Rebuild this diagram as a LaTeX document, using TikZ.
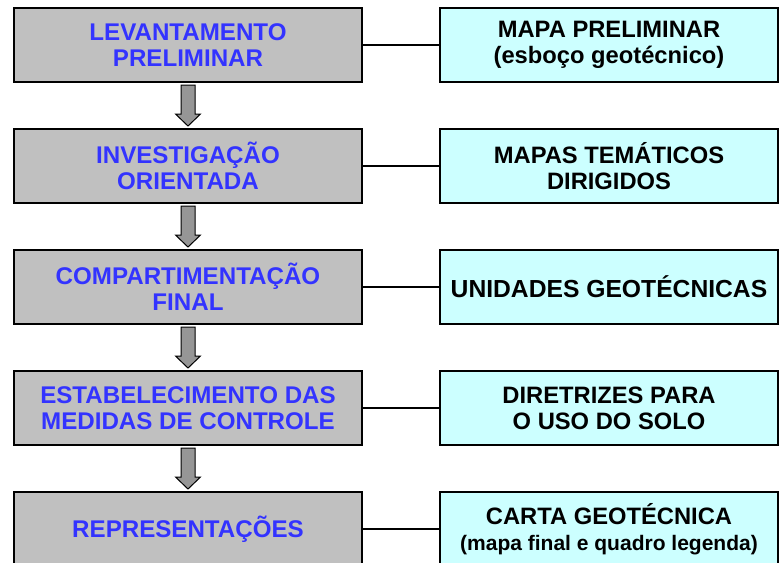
\documentclass[tikz,border=0pt]{standalone}
\usepackage{fontspec}
\setmainfont{Liberation Sans}
\usetikzlibrary{positioning, calc}

\definecolor{boxgray}{RGB}{192,192,192}
\definecolor{boxcyan}{RGB}{204,255,255}
\definecolor{txtblue}{RGB}{51,51,255}
\definecolor{arrgray}{RGB}{150,150,150}

\begin{document}
\begin{tikzpicture}[
    stage/.style={rectangle, draw, line width=1.5pt, fill=boxgray, text=txtblue, minimum width=261pt, minimum height=55.5pt, align=center, font=\fontsize{18.1}{19.5}\selectfont\bfseries},
    result/.style={rectangle, draw, line width=1.5pt, fill=boxcyan, minimum width=253.5pt, minimum height=55.5pt, align=center, font=\fontsize{17.8}{19.5}\selectfont\bfseries},
    link/.style={line width=1pt},
    blockarr/.style={draw, line width=0.75pt, fill=arrgray, line join=miter},
    ]
    \useasboundingbox (0,0) rectangle (584.25pt,-421.5pt);
    \clip (0,0) rectangle (584.25pt,-421.5pt);

    % Stages
    \node[stage] (l1) at (141pt,-33.75pt) {LEVANTAMENTO\\PRELIMINAR};
    \node[stage, below=33.75pt of l1] (l2) {INVESTIGAÇÃO\\ORIENTADA};
    \node[stage, below=33.75pt of l2] (l3) {COMPARTIMENTAÇÃO\\FINAL};
    \node[stage, below=33.75pt of l3] (l4) {ESTABELECIMENTO DAS\\MEDIDAS DE CONTROLE};
    \node[stage, below=33.75pt of l4] (l5) {REPRESENTAÇÕES};

    % Products
    \node[result, right=57pt of l1] (r1) {MAPA PRELIMINAR\\(esboço geotécnico)};
    \node[result, right=57pt of l2] (r2) {MAPAS TEMÁTICOS\\DIRIGIDOS};
    \node[result, right=57pt of l3, font=\fontsize{18.5}{19.5}\selectfont\bfseries] (r3) {UNIDADES GEOTÉCNICAS};
    \node[result, right=57pt of l4] (r4) {DIRETRIZES PARA\\O USO DO SOLO};
    \node[result, right=57pt of l5] (r5) {CARTA GEOTÉCNICA\\{\fontsize{15.75}{18}\selectfont (mapa final e quadro legenda)}};

    \foreach \i in {1,...,5}
        \draw[link] (l\i) -- (r\i);

    % Block arrows between stages
    \foreach \a/\b in {l1/l2, l2/l3, l3/l4, l4/l5}
        \draw[blockarr] (\a.south) ++(-5.25pt,-1.5pt) -- ++(0,-21.75pt) -- ++(-4.125pt,0)
            -- ($(\b.north)+(0,1.5pt)$) -- ++(9.375pt,9pt) -- ++(-4.125pt,0) -- ++(0,21.75pt) -- cycle;

\end{tikzpicture}
\end{document}
